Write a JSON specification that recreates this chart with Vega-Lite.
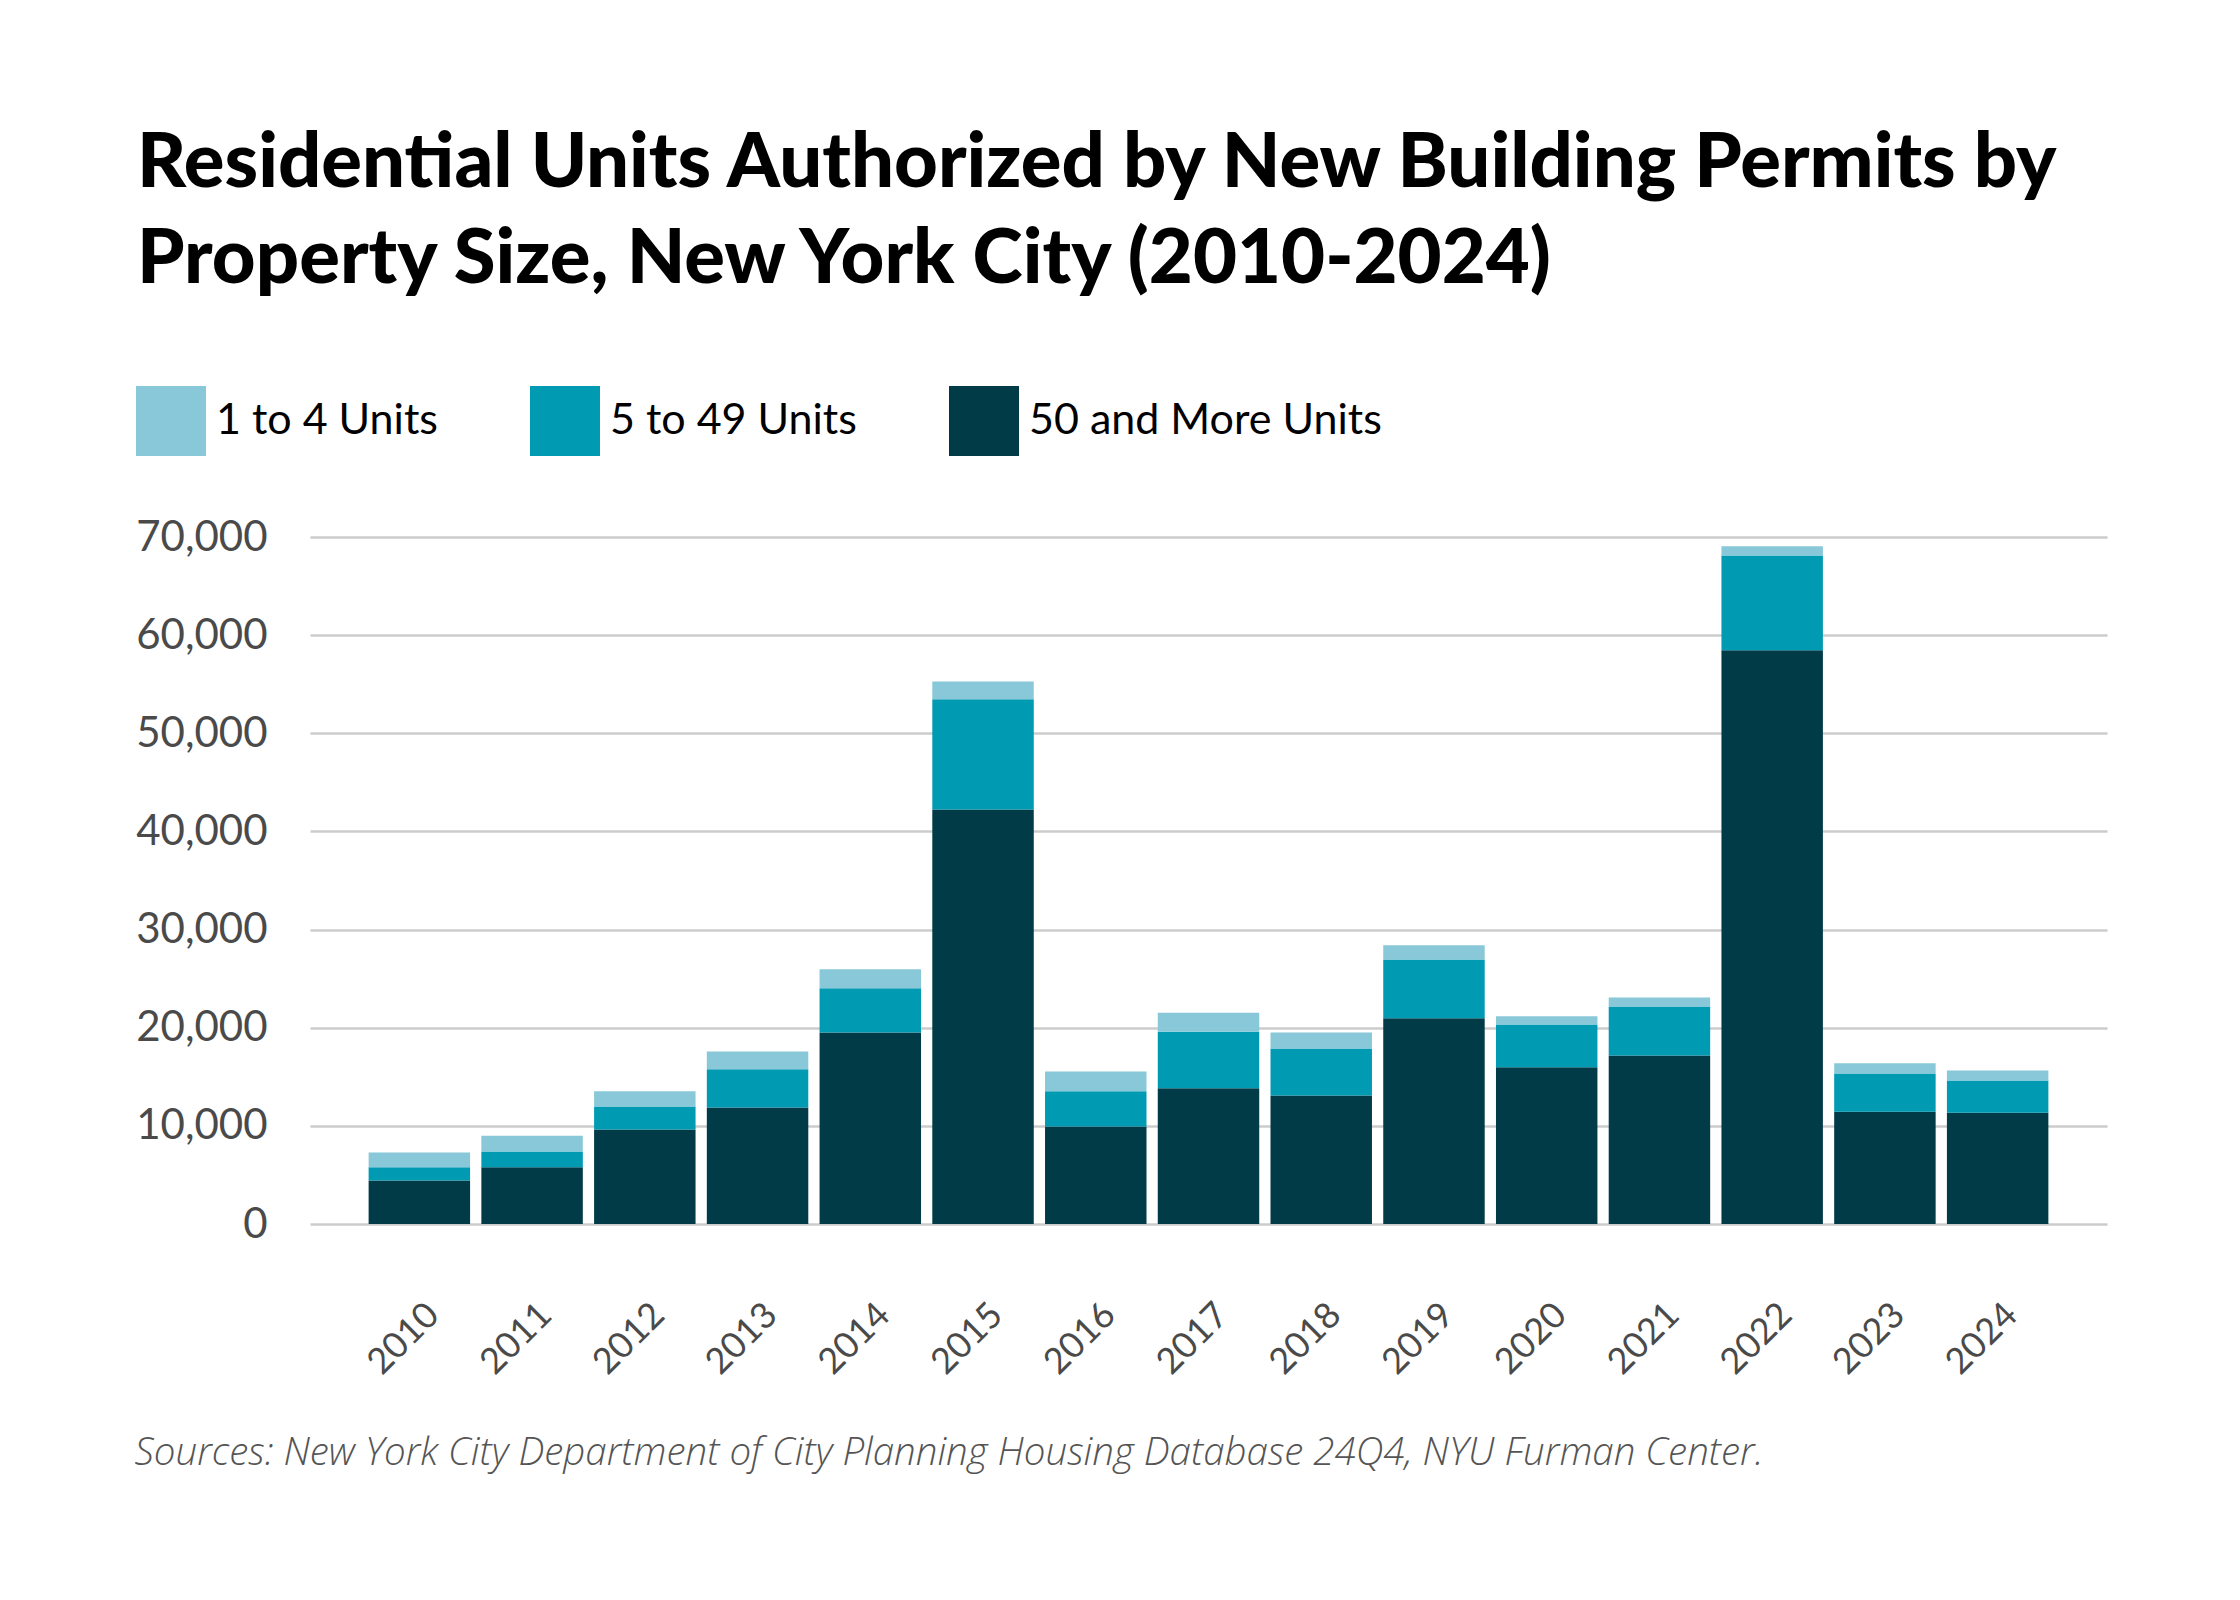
{
  "$schema": "https://vega.github.io/schema/vega-lite/v6.json",
  "autosize": {"type": "none"},
  "padding": {"left": 310, "top": 537, "right": 133, "bottom": 376},
  "width": 1797,
  "height": 687,
  "background": "white",
  "config": {"font": "Lato", "view": {"stroke": null}},
  "title": {
    "text": ["Residential Units Authorized by New Building Permits by", "Property Size, New York City (2010-2024)"],
    "font": "Lato",
    "fontSize": 76,
    "fontWeight": 900,
    "lineHeight": 96,
    "color": "#000000",
    "anchor": "start",
    "frame": "group",
    "dx": -173,
    "offset": 87
  },
  "data": {
    "values": [
      {"year": "2010", "size": "50 and More Units", "units": 4420},
      {"year": "2010", "size": "5 to 49 Units", "units": 1350},
      {"year": "2010", "size": "1 to 4 Units", "units": 1510},
      {"year": "2011", "size": "50 and More Units", "units": 5770},
      {"year": "2011", "size": "5 to 49 Units", "units": 1610},
      {"year": "2011", "size": "1 to 4 Units", "units": 1620},
      {"year": "2012", "size": "50 and More Units", "units": 9620},
      {"year": "2012", "size": "5 to 49 Units", "units": 2340},
      {"year": "2012", "size": "1 to 4 Units", "units": 1560},
      {"year": "2013", "size": "50 and More Units", "units": 11860},
      {"year": "2013", "size": "5 to 49 Units", "units": 3900},
      {"year": "2013", "size": "1 to 4 Units", "units": 1820},
      {"year": "2014", "size": "50 and More Units", "units": 19500},
      {"year": "2014", "size": "5 to 49 Units", "units": 4520},
      {"year": "2014", "size": "1 to 4 Units", "units": 1930},
      {"year": "2015", "size": "50 and More Units", "units": 42230},
      {"year": "2015", "size": "5 to 49 Units", "units": 11230},
      {"year": "2015", "size": "1 to 4 Units", "units": 1820},
      {"year": "2016", "size": "50 and More Units", "units": 9930},
      {"year": "2016", "size": "5 to 49 Units", "units": 3590},
      {"year": "2016", "size": "1 to 4 Units", "units": 2030},
      {"year": "2017", "size": "50 and More Units", "units": 13830},
      {"year": "2017", "size": "5 to 49 Units", "units": 5770},
      {"year": "2017", "size": "1 to 4 Units", "units": 1930},
      {"year": "2018", "size": "50 and More Units", "units": 13100},
      {"year": "2018", "size": "5 to 49 Units", "units": 4790},
      {"year": "2018", "size": "1 to 4 Units", "units": 1610},
      {"year": "2019", "size": "50 and More Units", "units": 20960},
      {"year": "2019", "size": "5 to 49 Units", "units": 5980},
      {"year": "2019", "size": "1 to 4 Units", "units": 1450},
      {"year": "2020", "size": "50 and More Units", "units": 15960},
      {"year": "2020", "size": "5 to 49 Units", "units": 4370},
      {"year": "2020", "size": "1 to 4 Units", "units": 830},
      {"year": "2021", "size": "50 and More Units", "units": 17160},
      {"year": "2021", "size": "5 to 49 Units", "units": 4990},
      {"year": "2021", "size": "1 to 4 Units", "units": 940},
      {"year": "2022", "size": "50 and More Units", "units": 58450},
      {"year": "2022", "size": "5 to 49 Units", "units": 9670},
      {"year": "2022", "size": "1 to 4 Units", "units": 940},
      {"year": "2023", "size": "50 and More Units", "units": 11440},
      {"year": "2023", "size": "5 to 49 Units", "units": 3900},
      {"year": "2023", "size": "1 to 4 Units", "units": 1040},
      {"year": "2024", "size": "50 and More Units", "units": 11340},
      {"year": "2024", "size": "5 to 49 Units", "units": 3270},
      {"year": "2024", "size": "1 to 4 Units", "units": 1040}
    ]
  },
  "mark": {"type": "bar"},
  "encoding": {
    "x": {
      "field": "year",
      "type": "ordinal",
      "scale": {"paddingInner": 0.1, "paddingOuter": 0.52},
      "axis": {
        "title": "Sources: New York City Department of City Planning Housing Database 24Q4, NYU Furman Center.",
        "titleFont": "Open Sans",
        "titleFontSize": 38.5,
        "titleFontStyle": "italic",
        "titleFontWeight": 300,
        "titleColor": "#555555",
        "titleAlign": "left",
        "titleAnchor": "start",
        "titleBaseline": "alphabetic",
        "titleX": -176,
        "titleY": 240,
        "labelAngle": -45,
        "labelAlign": "right",
        "labelBaseline": "middle",
        "labelFontSize": 36,
        "labelColor": "#4a4a4a",
        "labelPadding": 85,
        "labelOffset": 14,
        "ticks": false,
        "domain": false,
        "grid": false
      }
    },
    "y": {
      "field": "units",
      "type": "quantitative",
      "stack": "zero",
      "scale": {"domain": [0, 70000], "nice": false},
      "axis": {
        "title": null,
        "values": [0, 10000, 20000, 30000, 40000, 50000, 60000, 70000],
        "format": ",d",
        "labelFontSize": 42,
        "labelColor": "#4a4a4a",
        "labelPadding": 43,
        "ticks": false,
        "domain": false,
        "gridColor": "#cccccc",
        "gridWidth": 2.5
      }
    },
    "color": {
      "field": "size",
      "type": "nominal",
      "scale": {
        "domain": ["1 to 4 Units", "5 to 49 Units", "50 and More Units"],
        "range": ["#88c8d8", "#019ab3", "#023b48"]
      },
      "legend": {
        "title": null,
        "orient": "none",
        "direction": "horizontal",
        "legendX": -174,
        "legendY": -151,
        "padding": 0,
        "symbolType": "square",
        "symbolSize": 4900,
        "symbolStrokeWidth": 0,
        "symbolOpacity": 1,
        "labelFontSize": 43,
        "labelColor": "#000000",
        "labelOffset": 10,
        "columnPadding": 92,
        "labelLimit": 600
      }
    },
    "order": {"field": "size", "sort": "descending"}
  }
}
